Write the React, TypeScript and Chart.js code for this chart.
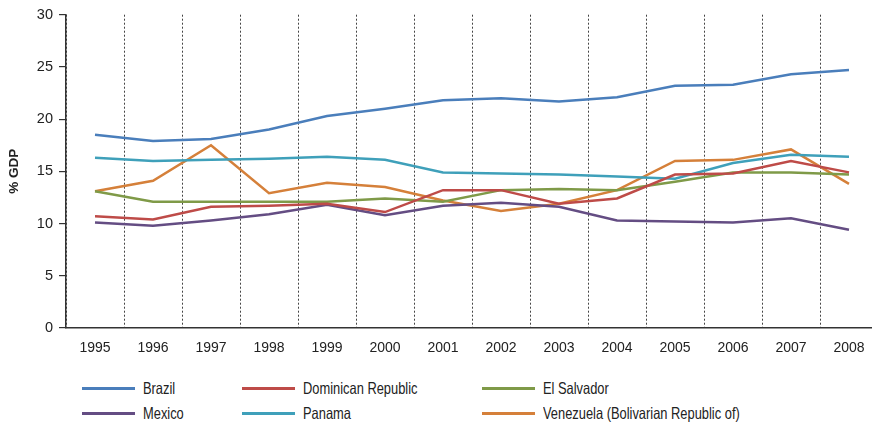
import React, { useEffect, useRef } from "react";
import { Chart, registerables } from "chart.js";

Chart.register(...registerables);

const years = ["1995", "1996", "1997", "1998", "1999", "2000", "2001", "2002", "2003", "2004", "2005", "2006", "2007", "2008"];

const brazil = [18.5, 17.9, 18.1, 19.0, 20.3, 21.0, 21.8, 22.0, 21.7, 22.1, 23.2, 23.3, 24.3, 24.7];
const dominicanRepublic = [10.7, 10.4, 11.6, 11.7, 11.9, 11.1, 13.2, 13.2, 11.9, 12.4, 14.7, 14.8, 16.0, 14.9];
const elSalvador = [13.1, 12.1, 12.1, 12.1, 12.1, 12.4, 12.1, 13.2, 13.3, 13.2, 14.0, 14.9, 14.9, 14.7];
const mexico = [10.1, 9.8, 10.3, 10.9, 11.8, 10.8, 11.7, 12.0, 11.6, 10.3, 10.2, 10.1, 10.5, 9.4];
const panama = [16.3, 16.0, 16.1, 16.2, 16.4, 16.1, 14.9, 14.8, 14.7, 14.5, 14.3, 15.8, 16.6, 16.4];
const venezuela = [13.1, 14.1, 17.5, 12.9, 13.9, 13.5, 12.2, 11.2, 11.9, 13.2, 16.0, 16.1, 17.1, 13.8];

const seriesNames = ["Brazil", "Dominican Republic", "El Salvador", "Mexico", "Panama", "Venezuela (Bolivarian Republic of)"];
const seriesValues = [brazil, dominicanRepublic, elSalvador, mexico, panama, venezuela];
const seriesColors = ["#4a7ebb", "#be4b48", "#7f9a48", "#644d83", "#3fa0ba", "#d5803a"];

const yTitle = "% GDP";

const FONT = '"Liberation Sans", Arial, Helvetica, sans-serif';
const CANVAS_W = 880;
const CANVAS_H = 365;
const AXIS_BOTTOM = 328;

const legendCols = [82, 242, 482];
const legendRows = [388, 413];

export default function App() {
  const ref = useRef<HTMLCanvasElement>(null);

  useEffect(() => {
    const chart = new Chart(ref.current!, {
      type: "line",
      data: {
        labels: years,
        datasets: seriesNames.map((name, i) => ({
          label: name,
          data: seriesValues[i],
          borderColor: seriesColors[i],
          backgroundColor: seriesColors[i],
          borderWidth: 2.5,
          pointRadius: 0,
          tension: 0,
          fill: false,
        })),
      },
      options: {
        animation: false,
        responsive: false,
        maintainAspectRatio: false,
        layout: { padding: { top: 13, right: 2, left: 0, bottom: 0 } },
        plugins: { legend: { display: false }, tooltip: { enabled: false } },
        scales: {
          x: {
            offset: true,
            grid: { offset: true, drawTicks: false, color: "#444", lineWidth: 1 },
            border: { display: true, color: "#333", width: 1.5, dash: [2, 2] },
            ticks: {
              autoSkip: false,
              maxRotation: 0,
              padding: 12,
              color: "#222",
              font: { family: FONT, size: 14 },
            },
            afterFit: (s: any) => {
              s.height = CANVAS_H - AXIS_BOTTOM;
            },
          },
          y: {
            min: 0,
            max: 30,
            ticks: {
              stepSize: 5,
              padding: 6,
              color: "#222",
              font: { family: FONT, size: 14.5 },
            },
            grid: { drawOnChartArea: false, drawTicks: true, tickLength: 7, color: "#333", lineWidth: 1.2 },
            border: { display: true, color: "#333", width: 1.5 },
            title: {
              display: true,
              text: yTitle,
              color: "#222",
              font: { family: FONT, size: 13.5, weight: "bold" },
              padding: { top: 6, bottom: 0 },
            },
            afterFit: (s: any) => {
              s.width = 66;
            },
          },
        },
      },
    });
    return () => chart.destroy();
  }, []);

  return (
    <div
      style={{
        position: "fixed",
        left: 0,
        top: 0,
        width: 872,
        height: 425,
        overflow: "hidden",
        background: "#fff",
        fontFamily: FONT,
      }}
    >
      <canvas ref={ref} width={CANVAS_W} height={CANVAS_H} style={{ position: "absolute", left: 0, top: 0, width: CANVAS_W, height: CANVAS_H }} />
      {seriesNames.map((name, i) => {
        const col = i % 3;
        const row = Math.floor(i / 3);
        const x = legendCols[col];
        const y = legendRows[row];
        return (
          <div key={name} style={{ position: "absolute", left: x, top: y - 11, height: 22, display: "flex", alignItems: "center", whiteSpace: "nowrap" }}>
            <span style={{ display: "inline-block", width: 53, height: 3, background: seriesColors[i], marginRight: 8 }} />
            <span style={{ display: "inline-block", fontSize: 16.5, color: "#222", transform: "scaleX(0.78)", transformOrigin: "left center" }}>{name}</span>
          </div>
        );
      })}
    </div>
  );
}
